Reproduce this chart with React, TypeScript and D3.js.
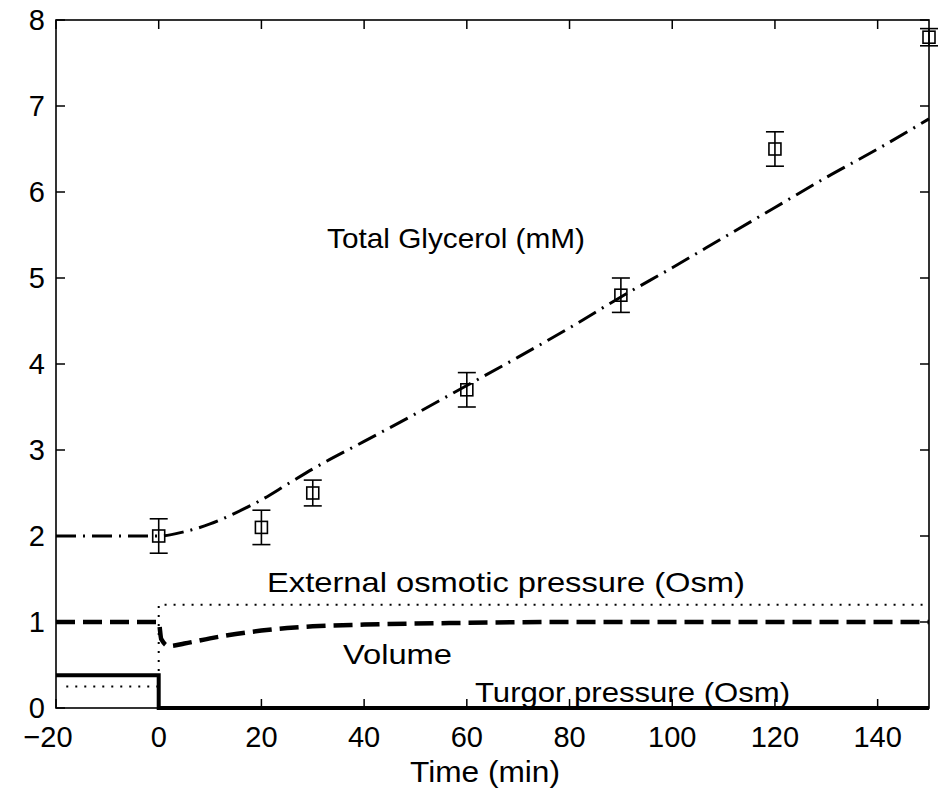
import React from "react";
import * as d3 from "d3";

const W = 944;
const H = 791;

// Model curve: total glycerol (mM)
const glyT = [-20, -10, 0, 5, 10, 15, 20, 25, 30, 40, 50, 60, 70, 80, 90, 100, 110, 120, 130, 140, 150];
const glyV = [2.0, 2.0, 2.0, 2.05, 2.14, 2.27, 2.42, 2.6, 2.78, 3.1, 3.42, 3.75, 4.08, 4.42, 4.78, 5.12, 5.47, 5.82, 6.17, 6.5, 6.85];

// Measured glycerol with error bars
const obsT = [0, 20, 30, 60, 90, 120, 150];
const obsV = [2.0, 2.1, 2.5, 3.7, 4.8, 6.5, 7.8];
const obsE = [0.2, 0.2, 0.15, 0.2, 0.2, 0.2, 0.1];

// External osmotic pressure (Osm)
const extT = [-18, 0, 0, 150];
const extV = [0.25, 0.25, 1.2, 1.2];

// Volume
const volT = [-20, 0, 0.5, 2, 5, 10, 15, 20, 25, 30, 40, 60, 80, 150];
const volV = [1, 1, 0.8, 0.72, 0.75, 0.81, 0.86, 0.9, 0.93, 0.95, 0.97, 0.99, 1.0, 1.0];

// Turgor pressure (Osm)
const turT = [-20, 0, 0, 150];
const turV = [0.38, 0.38, 0, 0];

const xTicks = [-20, 0, 20, 40, 60, 80, 100, 120, 140];
const yTicks = [0, 1, 2, 3, 4, 5, 6, 7, 8];

const FONT = "'Liberation Sans', Arial, Helvetica, sans-serif";

export default function App() {
  const x = d3.scaleLinear().domain([-20, 150]).range([56, 929]);
  const y = d3.scaleLinear().domain([0, 8]).range([708, 20]);

  const smooth = d3
    .line<number>()
    .x((d, i) => x(glyT[i]))
    .y((d) => y(d))
    .curve(d3.curveMonotoneX);
  const volLine = d3
    .line<number>()
    .x((d, i) => x(volT[i]))
    .y((d) => y(d))
    .curve(d3.curveMonotoneX);
  const straight = (ts: number[]) =>
    d3
      .line<number>()
      .x((d, i) => x(ts[i]))
      .y((d) => y(d));

  const x0 = x.range()[0];
  const x1 = x.range()[1];
  const y0 = y.range()[0];
  const y1 = y.range()[1];
  const tl = 9;

  return (
    <svg
      width={W}
      height={H}
      style={{ position: "absolute", left: 0, top: 0, background: "#fff" }}
      fontFamily={FONT}
    >
      <rect x={0} y={0} width={W} height={H} fill="#fff" />
      {/* curves */}
      <path
        d={straight(turT)(turV) || ""}
        fill="none"
        stroke="#000"
        strokeWidth={4}
      />
      <path
        d={straight(extT)(extV) || ""}
        fill="none"
        stroke="#000"
        strokeWidth={2}
        strokeDasharray="2,7"
      />
      <path
        d={volLine(volV) || ""}
        fill="none"
        stroke="#000"
        strokeWidth={4.5}
        strokeDasharray="19,8"
      />
      <path
        d={smooth(glyV) || ""}
        fill="none"
        stroke="#000"
        strokeWidth={3}
        strokeDasharray="20,7,2,7"
      />
      {/* observations */}
      {obsT.map((t, i) => {
        const cx = x(t);
        const cy = y(obsV[i]);
        const top = y(obsV[i] + obsE[i]);
        const bot = y(obsV[i] - obsE[i]);
        return (
          <g key={i} stroke="#000" strokeWidth={1.6} fill="none">
            <line x1={cx} x2={cx} y1={top} y2={bot} />
            <line x1={cx - 9} x2={cx + 9} y1={top} y2={top} />
            <line x1={cx - 9} x2={cx + 9} y1={bot} y2={bot} />
            <rect x={cx - 6} y={cy - 6} width={12} height={12} fill="none" />
          </g>
        );
      })}
      {/* axes box */}
      <rect
        x={x0}
        y={y1}
        width={x1 - x0}
        height={y0 - y1}
        fill="none"
        stroke="#000"
        strokeWidth={1.6}
      />
      {xTicks.map((t) => (
        <g key={"xt" + t} stroke="#000" strokeWidth={1.5}>
          <line x1={x(t)} x2={x(t)} y1={y0} y2={y0 - tl} />
          <line x1={x(t)} x2={x(t)} y1={y1} y2={y1 + tl} />
        </g>
      ))}
      {yTicks.map((t) => (
        <g key={"yt" + t} stroke="#000" strokeWidth={1.5}>
          <line x1={x0} x2={x0 + tl} y1={y(t)} y2={y(t)} />
          <line x1={x1} x2={x1 - tl} y1={y(t)} y2={y(t)} />
        </g>
      ))}
      {xTicks.map((t) => (
        <text
          key={"xl" + t}
          x={x(t) - (t < 0 ? 8 : 0)}
          y={747}
          fontSize={29}
          textAnchor="middle"
          fill="#000"
        >
          {t < 0 ? "\u2212" + Math.abs(t) : t}
        </text>
      ))}
      {yTicks.map((t) => (
        <text
          key={"yl" + t}
          x={45}
          y={y(t) + 10}
          fontSize={29}
          textAnchor="end"
          fill="#000"
        >
          {t}
        </text>
      ))}
      <text x={410} y={782} fontSize={29} textLength={150} lengthAdjust="spacingAndGlyphs" fill="#000">
        Time (min)
      </text>
      <text x={327} y={248} fontSize={28} textLength={258} lengthAdjust="spacingAndGlyphs" fill="#000">
        Total Glycerol (mM)
      </text>
      <text x={267} y={592} fontSize={28} textLength={478} lengthAdjust="spacingAndGlyphs" fill="#000">
        External osmotic pressure (Osm)
      </text>
      <text x={343} y={664} fontSize={28} textLength={109} lengthAdjust="spacingAndGlyphs" fill="#000">
        Volume
      </text>
      <text x={475} y={702} fontSize={28} textLength={315} lengthAdjust="spacingAndGlyphs" fill="#000">
        Turgor pressure (Osm)
      </text>
    </svg>
  );
}
